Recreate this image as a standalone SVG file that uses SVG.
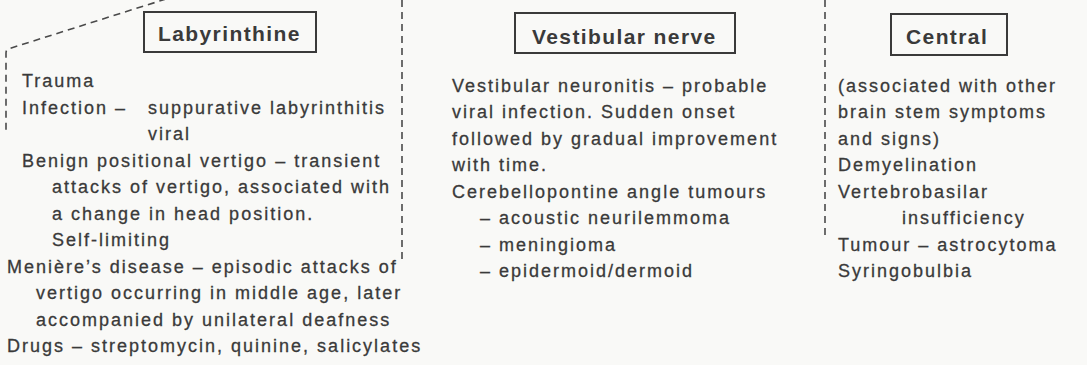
<svg xmlns="http://www.w3.org/2000/svg" width="1087" height="365" viewBox="0 0 1087 365">
<style>
.bg{fill:#f9f9f7}
.box{fill:none;stroke:#3a3a3a;stroke-width:2}
.hd{font-family:"Liberation Sans",Arial,sans-serif;font-weight:bold;font-size:21px;letter-spacing:1.4px;fill:#3a3a3a}
.t{font-family:"Liberation Sans",Arial,sans-serif;font-size:18px;letter-spacing:2px;fill:#3a3a3a;stroke:#3a3a3a;stroke-width:0.3}
.dash{fill:none;stroke:#4a4a4a;stroke-width:1.6;stroke-dasharray:7 5}
</style>
<rect class="bg" x="0" y="0" width="1087" height="365"/>
<g id="connectors">
<path class="dash" d="M166,-1 L8,49 Q6,50 6,53 L6,130"/>
<path class="dash" d="M402,0 L402,262"/>
<path class="dash" d="M825,0 L825,240"/>
</g>
<g id="labyrinthine">
<rect class="box" x="144" y="12" width="172" height="40"/>
<text class="hd" x="158" y="41">Labyrinthine</text>
<text class="t" x="22" y="87">Trauma</text>
<text class="t" x="22" y="113.5">Infection –</text>
<text class="t" x="148" y="113.5">suppurative labyrinthitis</text>
<text class="t" x="148" y="140">viral</text>
<text class="t" x="22" y="166.5">Benign positional vertigo – transient</text>
<text class="t" x="52" y="193">attacks of vertigo, associated with</text>
<text class="t" x="52" y="219.5">a change in head position.</text>
<text class="t" x="52" y="246">Self-limiting</text>
<text class="t" x="7" y="272.5">Menière’s disease – episodic attacks of</text>
<text class="t" x="36" y="299">vertigo occurring in middle age, later</text>
<text class="t" x="36" y="325.5">accompanied by unilateral deafness</text>
<text class="t" x="7" y="352">Drugs – streptomycin, quinine, salicylates</text>
</g>
<g id="vestibular-nerve">
<rect class="box" x="515" y="13" width="220" height="40"/>
<text class="hd" x="532" y="44">Vestibular nerve</text>
<text class="t" x="452" y="91.5">Vestibular neuronitis – probable</text>
<text class="t" x="452" y="118">viral infection. Sudden onset</text>
<text class="t" x="452" y="144.5">followed by gradual improvement</text>
<text class="t" x="452" y="171">with time.</text>
<text class="t" x="452" y="197.5">Cerebellopontine angle tumours</text>
<text class="t" x="480" y="224">– acoustic neurilemmoma</text>
<text class="t" x="480" y="250.5">– meningioma</text>
<text class="t" x="480" y="277">– epidermoid/dermoid</text>
</g>
<g id="central">
<rect class="box" x="891" y="14" width="116" height="41"/>
<text class="hd" x="906" y="44">Central</text>
<text class="t" x="838" y="91.5">(associated with other</text>
<text class="t" x="838" y="118">brain stem symptoms</text>
<text class="t" x="838" y="144.5">and signs)</text>
<text class="t" x="838" y="171">Demyelination</text>
<text class="t" x="838" y="197.5">Vertebrobasilar</text>
<text class="t" x="902" y="224">insufficiency</text>
<text class="t" x="838" y="250.5">Tumour – astrocytoma</text>
<text class="t" x="838" y="277">Syringobulbia</text>
</g>
</svg>
